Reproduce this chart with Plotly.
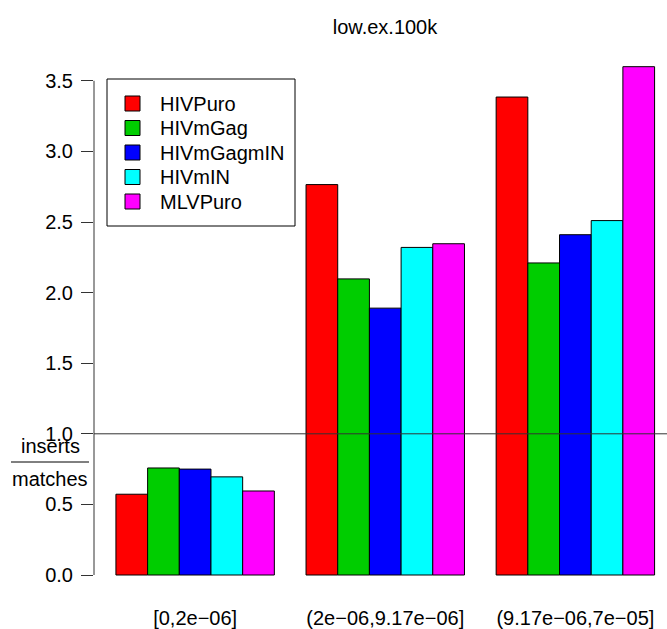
import plotly.graph_objects as go

categories = ["[0,2e−06]", "(2e−06,9.17e−06]", "(9.17e−06,7e−05]"]
series_names = ["HIVPuro", "HIVmGag", "HIVmGagmIN", "HIVmIN", "MLVPuro"]
HIVPuro = [0.572, 2.765, 3.385]
HIVmGag = [0.758, 2.097, 2.21]
HIVmGagmIN = [0.750, 1.890, 2.41]
HIVmIN = [0.695, 2.320, 2.51]
MLVPuro = [0.595, 2.346, 3.60]
colors = ["#FF0000", "#00CD00", "#0000FF", "#00FFFF", "#FF00FF"]
y_ticks = [0.0, 0.5, 1.0, 1.5, 2.0, 2.5, 3.0, 3.5]

values = [HIVPuro, HIVmGag, HIVmGagmIN, HIVmIN, MLVPuro]
FONT = "Liberation Sans, Arial, sans-serif"

W, H = 667, 629
L, R, T, B = 94, 0, 47, 34
plot_w = W - L - R
plot_h = H - T - B
zero_px = 575
px_per_unit = 141.2

def py(p):
    return (H - B - p) / plot_h

def px(p):
    return (p - L) / plot_w

fig = go.Figure()
for name, vals, col in zip(series_names, values, colors):
    fig.add_trace(go.Bar(
        x=categories, y=vals, name=name,
        marker=dict(color=col, line=dict(color="black", width=1)),
    ))

fig.update_layout(
    width=W, height=H,
    margin=dict(l=L, r=R, t=T, b=B, pad=0),
    plot_bgcolor="white", paper_bgcolor="white",
    barmode="group", bargap=1/6, bargroupgap=0,
    font=dict(family=FONT, size=20, color="black"),
    title=dict(text="low.ex.100k", x=385 / W, xanchor="center",
               y=1 - 27 / H, yanchor="middle",
               font=dict(family=FONT, size=20, color="black")),
    showlegend=False,
    xaxis=dict(range=[-0.532, 2.482], showline=False, showgrid=False, zeroline=False,
               ticks="", tickfont=dict(family=FONT, size=20, color="black"),
               ticklabelstandoff=9),
    yaxis=dict(range=[-(H - B - zero_px) / px_per_unit, (zero_px - T) / px_per_unit],
               showline=False, showgrid=False, zeroline=False,
               tickmode="array", tickvals=y_ticks,
               ticktext=[f"{v:.1f}" for v in y_ticks],
               ticks="outside", ticklen=12, tickwidth=1, tickcolor="#333333",
               tickfont=dict(family=FONT, size=20, color="black"),
               ticklabelstandoff=4),
)

# y axis line (only spans tick range, like R's axis)
fig.add_shape(type="line", xref="paper", yref="y", x0=0, x1=0, y0=y_ticks[0], y1=y_ticks[-1],
              line=dict(color="#333333", width=1))
# reference line at 1
fig.add_shape(type="line", xref="paper", yref="y", x0=0, x1=1, y0=1, y1=1,
              line=dict(color="#333333", width=1), layer="above")

# legend box (R-style)
fig.add_shape(type="rect", xref="paper", yref="paper",
              x0=px(107), x1=px(295), y0=py(79), y1=py(226),
              line=dict(color="black", width=1), fillcolor="white", layer="above")
for i, (name, col) in enumerate(zip(series_names, colors)):
    yc = 103.5 + i * 24.5
    fig.add_shape(type="rect", xref="paper", yref="paper",
                  x0=px(125), x1=px(140), y0=py(yc - 7.5), y1=py(yc + 7.5),
                  line=dict(color="black", width=1), fillcolor=col, layer="above")
    fig.add_annotation(text=name, xref="paper", yref="paper", x=px(158), y=py(yc),
                       showarrow=False, xanchor="left", yanchor="middle",
                       font=dict(family=FONT, size=20, color="black"))

# y label as a fraction
xc = px(50)
fig.add_annotation(text="inserts", xref="paper", yref="paper", x=xc, y=py(446),
                   showarrow=False, xanchor="center", yanchor="middle",
                   font=dict(family=FONT, size=20, color="black"))
fig.add_annotation(text="matches", xref="paper", yref="paper", x=xc, y=py(479),
                   showarrow=False, xanchor="center", yanchor="middle",
                   font=dict(family=FONT, size=20, color="black"))
fig.add_shape(type="line", xref="paper", yref="paper",
              x0=px(11), x1=px(89), y0=py(462), y1=py(462),
              line=dict(color="black", width=1))

fig.write_html("out.html")
